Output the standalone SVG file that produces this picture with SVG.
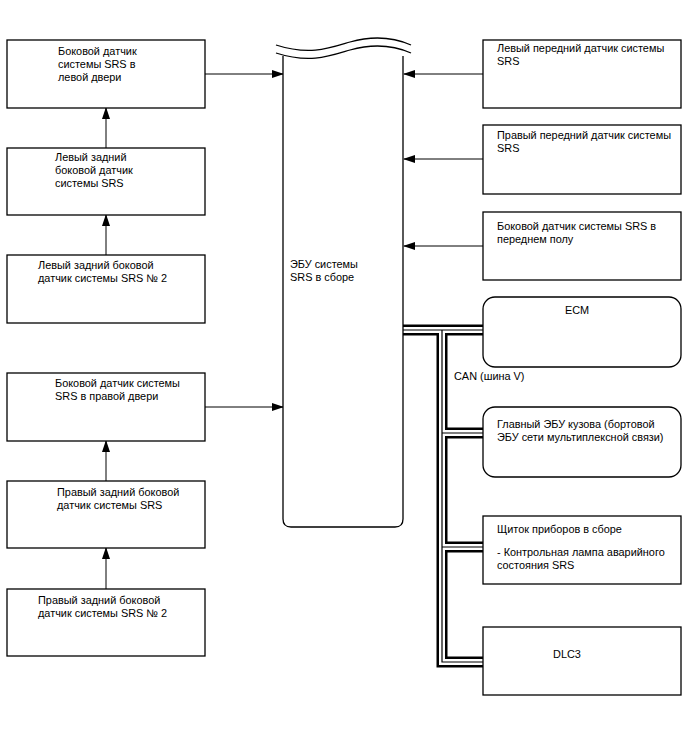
<svg xmlns="http://www.w3.org/2000/svg" width="688" height="755" viewBox="0 0 688 755">
<style>
.box{fill:#fff;stroke:#000;stroke-width:1.3}
.t{font-family:"Liberation Sans",Arial,sans-serif;font-size:10.9px;fill:#000}
.ln{stroke:#000;stroke-width:1;fill:none}
.busA{stroke:#000;stroke-width:11;fill:none;stroke-linejoin:miter}
.busB{stroke:#fff;stroke-width:6;fill:none;stroke-linejoin:miter}
.busC{stroke:#000;stroke-width:1.2;fill:none;stroke-linejoin:miter}
</style>
<defs>
<marker id="ah" markerWidth="12" markerHeight="8" refX="11" refY="4" orient="auto" markerUnits="userSpaceOnUse">
<path d="M0,0 L12,4 L0,8 Z" fill="#000"/>
</marker>
</defs>
<rect width="688" height="755" fill="#fff"/>

<g id="connectors">
<path class="ln" d="M205,74 H283" marker-end="url(#ah)"/>
<path class="ln" d="M205,407 H283" marker-end="url(#ah)"/>
<path class="ln" d="M106,148 V108" marker-end="url(#ah)"/>
<path class="ln" d="M106,255 V215" marker-end="url(#ah)"/>
<path class="ln" d="M106,481 V441" marker-end="url(#ah)"/>
<path class="ln" d="M106,589 V548" marker-end="url(#ah)"/>
<path class="ln" d="M483,74 H404" marker-end="url(#ah)"/>
<path class="ln" d="M483,159 H404" marker-end="url(#ah)"/>
<path class="ln" d="M483,246 H404" marker-end="url(#ah)"/>
<g id="can-bus">
<path class="busA" d="M403,330 H483 M442,330 V662 H483 M442,433 H483 M442,547 H483"/>
<path class="busB" d="M403,330 H483 M442,330 V662 H483 M442,433 H483 M442,547 H483"/>
<path class="busC" d="M403,330 H483 M442,330 V662 H483 M442,433 H483 M442,547 H483"/>
</g>
</g>

<g id="ecu">
<path class="box" d="M283,56 V519 Q283,527 291,527 H395 Q403,527 403,519 V56"/>
<path d="M276,45 C310,56 330,48 350,42 C375,35 395,38 411,45" fill="none" stroke="#000" stroke-width="1.3"/>
<path d="M276,53 C310,64 330,56 350,50 C375,43 395,46 411,53" fill="none" stroke="#000" stroke-width="1.3"/>
<text class="t" x="290" y="268">ЭБУ системы</text>
<text class="t" x="290" y="281">SRS в сборе</text>
</g>

<g id="left-door">
<rect class="box" x="7" y="40" width="198" height="68"/>
<text class="t" x="58" y="55">Боковой датчик</text>
<text class="t" x="58" y="68">системы SRS в</text>
<text class="t" x="58" y="81">левой двери</text>
</g>
<g id="left-rear">
<rect class="box" x="7" y="148" width="198" height="67"/>
<text class="t" x="55" y="161">Левый задний</text>
<text class="t" x="55" y="174">боковой датчик</text>
<text class="t" x="55" y="187">системы SRS</text>
</g>
<g id="left-rear-2">
<rect class="box" x="7" y="255" width="198" height="68"/>
<text class="t" x="38" y="269">Левый задний боковой</text>
<text class="t" x="38" y="282">датчик системы SRS № 2</text>
</g>
<g id="right-door">
<rect class="box" x="7" y="373" width="198" height="68"/>
<text class="t" x="55" y="387">Боковой датчик системы</text>
<text class="t" x="55" y="400">SRS в правой двери</text>
</g>
<g id="right-rear">
<rect class="box" x="7" y="481" width="198" height="67"/>
<text class="t" x="57" y="496">Правый задний боковой</text>
<text class="t" x="57" y="509">датчик системы SRS</text>
</g>
<g id="right-rear-2">
<rect class="box" x="7" y="589" width="198" height="67"/>
<text class="t" x="38" y="604">Правый задний боковой</text>
<text class="t" x="38" y="617">датчик системы SRS № 2</text>
</g>

<g id="front-left">
<rect class="box" x="483" y="40" width="198" height="68"/>
<text class="t" x="497" y="52">Левый передний датчик системы</text>
<text class="t" x="497" y="65">SRS</text>
</g>
<g id="front-right">
<rect class="box" x="483" y="125" width="198" height="69"/>
<text class="t" x="497" y="139">Правый передний датчик системы</text>
<text class="t" x="497" y="152">SRS</text>
</g>
<g id="floor">
<rect class="box" x="483" y="212" width="198" height="68"/>
<text class="t" x="497" y="230">Боковой датчик системы SRS в</text>
<text class="t" x="497" y="243">переднем полу</text>
</g>
<g id="ecm">
<rect class="box" x="483" y="297" width="198" height="70" rx="12"/>
<text class="t" x="577" y="314" text-anchor="middle">ECM</text>
</g>
<text class="t" x="454" y="380">CAN (шина V)</text>
<g id="body-ecu">
<rect class="box" x="483" y="407" width="198" height="70" rx="12"/>
<text class="t" x="497" y="428">Главный ЭБУ кузова (бортовой</text>
<text class="t" x="497" y="441">ЭБУ сети мультиплексной связи)</text>
</g>
<g id="meter">
<rect class="box" x="483" y="516" width="198" height="68"/>
<text class="t" x="497" y="533">Щиток приборов в сборе</text>
<text class="t" x="497" y="556">- Контрольная лампа аварийного</text>
<text class="t" x="497" y="569">состояния SRS</text>
</g>
<g id="dlc3">
<rect class="box" x="483" y="627" width="198" height="68"/>
<text class="t" x="567" y="658" text-anchor="middle">DLC3</text>
</g>
</svg>
